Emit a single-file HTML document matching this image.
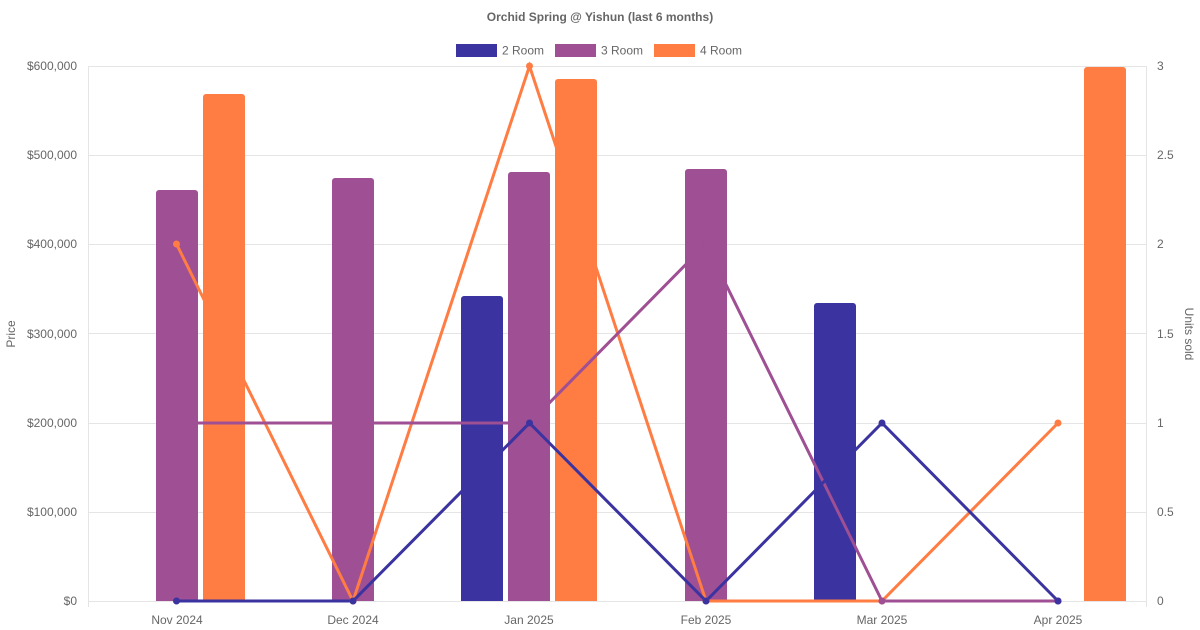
<!DOCTYPE html>
<html><head><meta charset="utf-8"><style>
body{margin:0;background:#fff;}
svg{display:block;font-family:"Liberation Sans",sans-serif;}
</style></head><body>
<svg width="1200" height="630" xmlns="http://www.w3.org/2000/svg">
<text x="600" y="21" text-anchor="middle" font-size="12" font-weight="bold" fill="#666">Orchid Spring @ Yishun (last 6 months)</text>
<rect x="456.5" y="44.5" width="40" height="12" fill="#3a33a0" stroke="#3a33a0"/>
<text x="502" y="54.5" font-size="12" fill="#666">2 Room</text>
<rect x="555.5" y="44.5" width="40" height="12" fill="#9f4f93" stroke="#9f4f93"/>
<text x="601" y="54.5" font-size="12" fill="#666">3 Room</text>
<rect x="654.5" y="44.5" width="40" height="12" fill="#ff7c43" stroke="#ff7c43"/>
<text x="700" y="54.5" font-size="12" fill="#666">4 Room</text>
<g stroke="#e5e5e5" stroke-width="1">
<line x1="88" y1="66.5" x2="1147" y2="66.5"/>
<line x1="88" y1="155.5" x2="1147" y2="155.5"/>
<line x1="88" y1="244.5" x2="1147" y2="244.5"/>
<line x1="88" y1="333.5" x2="1147" y2="333.5"/>
<line x1="88" y1="423.5" x2="1147" y2="423.5"/>
<line x1="88" y1="512.5" x2="1147" y2="512.5"/>
<line x1="88" y1="601.5" x2="1147" y2="601.5"/>
<line x1="88.5" y1="66" x2="88.5" y2="607"/>
<line x1="1146.5" y1="66" x2="1146.5" y2="607"/>
</g>
<g font-size="12" fill="#666" text-anchor="end">
<text x="77" y="70">$600,000</text><text x="77" y="159">$500,000</text><text x="77" y="248">$400,000</text>
<text x="77" y="338">$300,000</text><text x="77" y="427">$200,000</text><text x="77" y="516">$100,000</text><text x="77" y="605">$0</text>
</g>
<g font-size="12" fill="#666" text-anchor="start">
<text x="1157" y="70">3</text><text x="1157" y="159">2.5</text><text x="1157" y="248">2</text>
<text x="1157" y="338">1.5</text><text x="1157" y="427">1</text><text x="1157" y="516">0.5</text><text x="1157" y="605">0</text>
</g>
<g font-size="12" fill="#666" text-anchor="middle">
<text x="177" y="624">Nov 2024</text><text x="353" y="624">Dec 2024</text><text x="529" y="624">Jan 2025</text>
<text x="706" y="624">Feb 2025</text><text x="882" y="624">Mar 2025</text><text x="1058" y="624">Apr 2025</text>
</g>
<text transform="translate(15,334) rotate(-90)" font-size="12" fill="#666" text-anchor="middle">Price</text>
<text transform="translate(1185,334) rotate(90)" font-size="12" fill="#666" text-anchor="middle">Units sold</text>
<g>
<path fill="#9f4f93" d="M156,601V193a3,3 0 0 1 3,-3h36a3,3 0 0 1 3,3V601Z"/>
<path fill="#ff7c43" d="M203,601V97a3,3 0 0 1 3,-3h36a3,3 0 0 1 3,3V601Z"/>
<path fill="#9f4f93" d="M332,601V181a3,3 0 0 1 3,-3h36a3,3 0 0 1 3,3V601Z"/>
<path fill="#3a33a0" d="M461,601V299a3,3 0 0 1 3,-3h36a3,3 0 0 1 3,3V601Z"/>
<path fill="#9f4f93" d="M508,601V175a3,3 0 0 1 3,-3h36a3,3 0 0 1 3,3V601Z"/>
<path fill="#ff7c43" d="M555,601V82a3,3 0 0 1 3,-3h36a3,3 0 0 1 3,3V601Z"/>
<path fill="#9f4f93" d="M685,601V172a3,3 0 0 1 3,-3h36a3,3 0 0 1 3,3V601Z"/>
<path fill="#3a33a0" d="M814,601V306a3,3 0 0 1 3,-3h36a3,3 0 0 1 3,3V601Z"/>
<path fill="#ff7c43" d="M1084,601V70a3,3 0 0 1 3,-3h36a3,3 0 0 1 3,3V601Z"/>
</g>
<g fill="none" stroke-width="3">
<polyline stroke="#ff7c43" points="176.5,244 353,601 529.5,66 706,601 882,601 1058,423"/>
<polyline stroke="#9f4f93" points="176.5,423 353,423 529.5,423 706,244 882,601 1058,601"/>
<polyline stroke="#3a33a0" points="176.5,601 353,601 529.5,423 706,601 882,423 1058,601"/>
</g>
<g fill="#ff7c43"><circle cx="176.5" cy="244" r="3.5"/><circle cx="353" cy="601" r="3.5"/><circle cx="529.5" cy="66" r="3.5"/><circle cx="706" cy="601" r="3.5"/><circle cx="882" cy="601" r="3.5"/><circle cx="1058" cy="423" r="3.5"/></g>
<g fill="#9f4f93"><circle cx="176.5" cy="423" r="3.5"/><circle cx="353" cy="423" r="3.5"/><circle cx="529.5" cy="423" r="3.5"/><circle cx="706" cy="244" r="3.5"/><circle cx="882" cy="601" r="3.5"/><circle cx="1058" cy="601" r="3.5"/></g>
<g fill="#3a33a0"><circle cx="176.5" cy="601" r="3.5"/><circle cx="353" cy="601" r="3.5"/><circle cx="529.5" cy="423" r="3.5"/><circle cx="706" cy="601" r="3.5"/><circle cx="882" cy="423" r="3.5"/><circle cx="1058" cy="601" r="3.5"/></g>
</svg>
</body></html>
